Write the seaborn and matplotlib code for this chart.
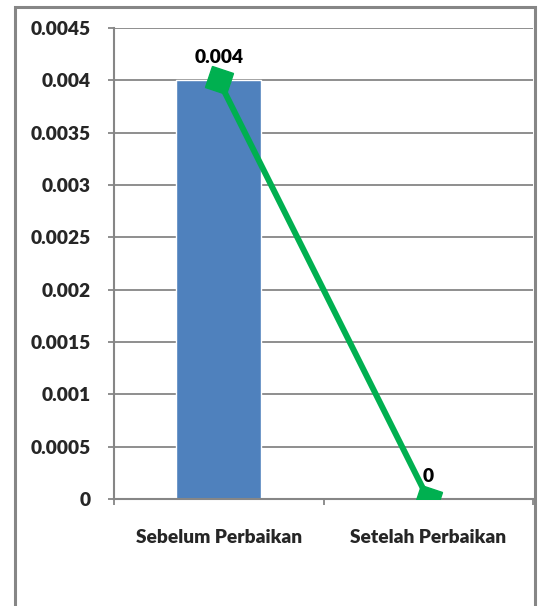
import matplotlib
matplotlib.use('Agg')
import matplotlib.pyplot as plt
import seaborn as sns
import pandas as pd
from matplotlib.markers import MarkerStyle
from matplotlib.transforms import Affine2D
from matplotlib.patches import Rectangle

# data
categories = ['Sebelum Perbaikan', 'Setelah Perbaikan']
bar_values = [0.004, 0.0]
line_values = [0.004, 0.0]
point_labels = ['0.004', '0']
y_ticks = [0, 0.0005, 0.001, 0.0015, 0.002, 0.0025, 0.003, 0.0035, 0.004, 0.0045]
y_tick_labels = ['0', '0.0005', '0.001', '0.0015', '0.002', '0.0025',
                 '0.003', '0.0035', '0.004', '0.0045']

sns.set_style('white')
plt.rcParams['font.family'] = ['Lato', 'DejaVu Sans']
plt.rcParams['font.weight'] = 'heavy'
FW = 'heavy'
FS = 13.8

gray = '#868686'
bar_color = '#4F81BD'
line_color = '#00B050'

fig = plt.figure(figsize=(5.39, 6.06), dpi=100)
ax = fig.add_axes([114 / 539, 1 - 499 / 606, (533 - 114) / 539, (499 - 28) / 606])

df = pd.DataFrame({'kategori': categories, 'nilai': bar_values})
sns.barplot(data=df, x='kategori', y='nilai', color=bar_color, width=0.405,
            saturation=1, ax=ax, zorder=2)

# line with rotated square markers
marker = MarkerStyle('s', transform=Affine2D().rotate_deg(-17))
x_pos = list(range(len(categories)))
ax.plot(x_pos, line_values, color=line_color, linewidth=4.3,
        marker=marker, markersize=16, zorder=4)

for x, v, lab in zip(x_pos, line_values, point_labels):
    ax.annotate(lab, (x, v), xytext=(0, 12.2), textcoords='offset points',
                ha='center', va='baseline', fontsize=FS, fontweight=FW,
                color='black', zorder=5)

ax.set_xlim(-0.5, 1.5)
ax.set_ylim(0, 0.0045)
ax.set_yticks(y_ticks)
ax.set_yticklabels(y_tick_labels)
ax.set_xticks(x_pos)
ax.set_xticklabels(categories)
ax.set_xticks([-0.5, 0.5, 1.5], minor=True)
ax.set_xlabel('')
ax.set_ylabel('')

ax.grid(axis='y', color=gray, linewidth=1.3, zorder=0)
ax.set_axisbelow(True)
for side in ['top', 'right']:
    ax.spines[side].set_visible(False)
for side in ['left', 'bottom']:
    ax.spines[side].set_color(gray)
    ax.spines[side].set_linewidth(1.5)

ax.tick_params(axis='y', which='major', length=4.5, width=1.3, color=gray,
               pad=12, labelsize=FS, left=True)
ax.tick_params(axis='x', which='major', length=0, pad=21.5, labelsize=FS)
ax.tick_params(axis='x', which='minor', length=4.5, width=1.3, color=gray,
               bottom=True)
for t in ax.get_xticklabels() + ax.get_yticklabels():
    t.set_fontweight(FW)

# outer chart border (Excel style)
border = Rectangle((15 / 539, -0.1), (535 - 15) / 539, 1.1 - 7 / 606,
                   transform=fig.transFigure, fill=False, edgecolor=gray,
                   linewidth=2.2, clip_on=False)
fig.patches.append(border)

plt.savefig('out.png', dpi=100)
plt.close('all')
